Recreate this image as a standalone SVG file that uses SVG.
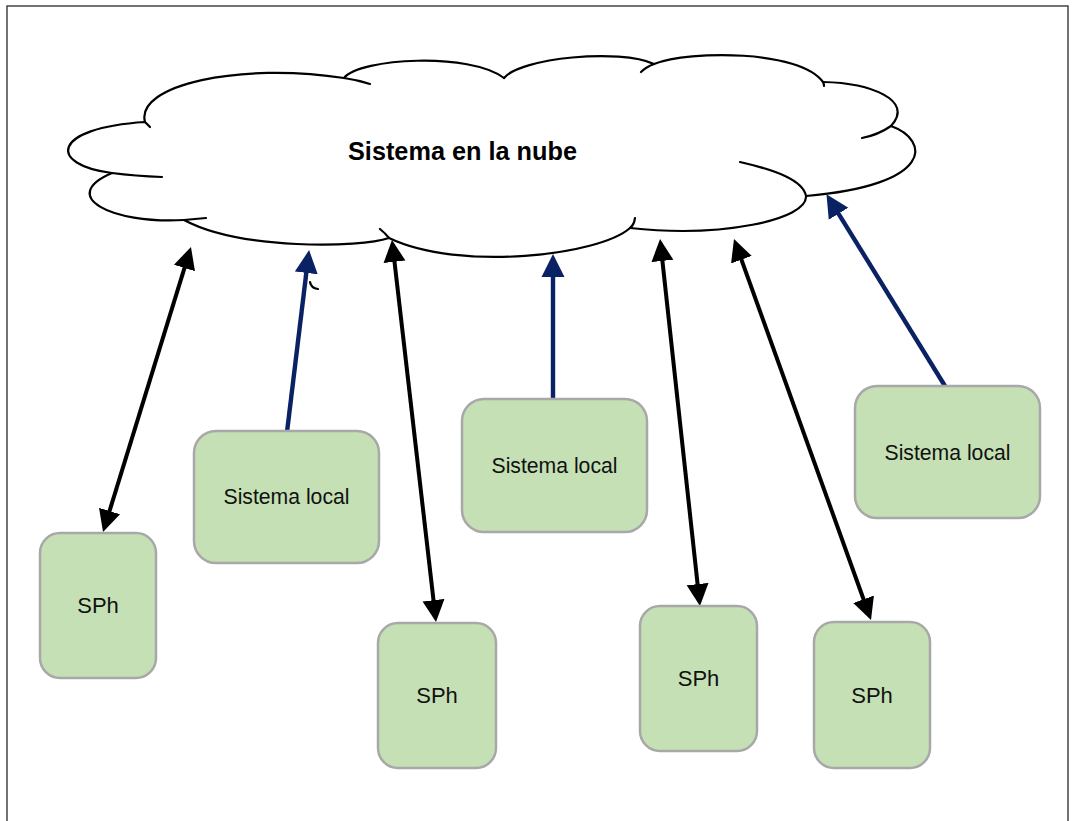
<svg xmlns="http://www.w3.org/2000/svg" width="1072" height="821" viewBox="0 0 1072 821">
  <style>
    .frame { fill: #ffffff; stroke: #444444; stroke-width: 1.5; }
    .cloud-fill { fill: #ffffff; stroke: none; }
    .cloud-line { fill: none; stroke: #000000; stroke-width: 2.2; stroke-linecap: round; stroke-linejoin: round; }
    .box { fill: #c5e0b4; stroke: #a8a8a8; stroke-width: 2.5; }
    .label { font-family: "Liberation Sans", Arial, sans-serif; font-size: 22px; fill: #111111; text-anchor: middle; }
    .title { font-family: "Liberation Sans", Arial, sans-serif; font-size: 25px; font-weight: bold; fill: #000000; }
    .link-black { stroke: #000000; stroke-width: 4; fill: none; }
    .link-blue { stroke: #0a2263; stroke-width: 4.4; fill: none; }
  </style>
  <defs>
    <marker id="head-black" viewBox="0 -12 22 24" refX="14" refY="0" markerWidth="22" markerHeight="24" markerUnits="userSpaceOnUse" orient="auto-start-reverse">
      <path d="M0,-11 L22,0 L0,11 z" fill="#000000"/>
    </marker>
    <marker id="head-blue" viewBox="0 -12 23 24" refX="14" refY="0" markerWidth="23" markerHeight="24" markerUnits="userSpaceOnUse" orient="auto">
      <path d="M0,-11.5 L23,0 L0,11.5 z" fill="#0a2263"/>
    </marker>
  </defs>

  <rect class="frame" x="7" y="6" width="1061" height="820"/>

  <!-- cloud -->
  <g id="cloud">
    <path class="cloud-fill" d="M145,122 C135,85 240,62 344,78 C360,58 470,52 504,78 C520,58 620,48 654,64 C690,50 800,50 823,82 C870,83 915,100 891,126 C930,140 935,185 806,196 C808,220 720,238 630,228 C600,255 460,272 389,238 C360,248 240,250 184,220 C110,224 58,196 112,173 C48,165 50,128 145,122 Z"/>
    <path class="cloud-line" d="M145,122 C135,85 240,62 344,78 Q358,80 370,84"/>
    <path class="cloud-line" d="M344,78 C360,58 470,52 504,78"/>
    <path class="cloud-line" d="M504,78 C520,58 620,48 654,64"/>
    <path class="cloud-line" d="M641,72 Q646,67 654,64 C690,50 800,50 823,82 Q824,84 824,86"/>
    <path class="cloud-line" d="M823,82 C870,83 915,100 891,126 Q878,135 862,138"/>
    <path class="cloud-line" d="M891,126 C930,140 935,185 806,196"/>
    <path class="cloud-line" d="M740,162 C775,170 803,180 806,196 C808,220 720,238 630,228 Q634,225 635,218"/>
    <path class="cloud-line" d="M630,228 C600,255 460,272 389,238 Q385,233 380,229"/>
    <path class="cloud-line" d="M389,238 C360,248 240,250 184,220 Q195,219 206,218"/>
    <path class="cloud-line" d="M184,220 C110,224 58,196 112,173 Q135,176 162,177"/>
    <path class="cloud-line" d="M112,173 C48,165 50,128 145,122 Q148,125 150,127"/>
    <path class="cloud-line" d="M310,282 Q311,288 318,289" stroke-width="1.6"/>
    <text class="title" x="348" y="160" textLength="229" lengthAdjust="spacingAndGlyphs">Sistema en la nube</text>
  </g>

  <!-- connectors -->
  <g id="connectors">
    <line class="link-black" x1="105.4" y1="524.4" x2="188.6" y2="254.6" marker-start="url(#head-black)" marker-end="url(#head-black)"/>
    <line class="link-blue" x1="287" y1="432" x2="308" y2="259" marker-end="url(#head-blue)"/>
    <line class="link-black" x1="392.9" y1="247.9" x2="435.1" y2="614.1" marker-start="url(#head-black)" marker-end="url(#head-black)"/>
    <line class="link-blue" x1="553" y1="400" x2="553" y2="263" marker-end="url(#head-blue)"/>
    <line class="link-black" x1="660.9" y1="247" x2="699.1" y2="598" marker-start="url(#head-black)" marker-end="url(#head-black)"/>
    <line class="link-black" x1="736.7" y1="246.5" x2="868.3" y2="612.5" marker-start="url(#head-black)" marker-end="url(#head-black)"/>
    <line class="link-blue" x1="945" y1="386" x2="831.2" y2="201.8" marker-end="url(#head-blue)"/>
  </g>

  <!-- nodes -->
  <g id="sph-1">
    <rect class="box" x="40" y="533" width="116" height="145" rx="20"/>
    <text class="label" x="98" y="613">SPh</text>
  </g>
  <g id="local-1">
    <rect class="box" x="194" y="431" width="185" height="132" rx="22"/>
    <text class="label" x="286.5" y="504" textLength="126" lengthAdjust="spacingAndGlyphs">Sistema local</text>
  </g>
  <g id="sph-2">
    <rect class="box" x="378" y="623" width="118" height="145" rx="20"/>
    <text class="label" x="437" y="703">SPh</text>
  </g>
  <g id="local-2">
    <rect class="box" x="462" y="399" width="185" height="133" rx="22"/>
    <text class="label" x="554.5" y="473" textLength="126" lengthAdjust="spacingAndGlyphs">Sistema local</text>
  </g>
  <g id="sph-3">
    <rect class="box" x="640" y="606" width="117" height="145" rx="20"/>
    <text class="label" x="698.5" y="686">SPh</text>
  </g>
  <g id="sph-4">
    <rect class="box" x="814" y="622" width="116" height="146" rx="20"/>
    <text class="label" x="872" y="702.5">SPh</text>
  </g>
  <g id="local-3">
    <rect class="box" x="855" y="386" width="185" height="132" rx="22"/>
    <text class="label" x="947.5" y="459.5" textLength="126" lengthAdjust="spacingAndGlyphs">Sistema local</text>
  </g>
</svg>
